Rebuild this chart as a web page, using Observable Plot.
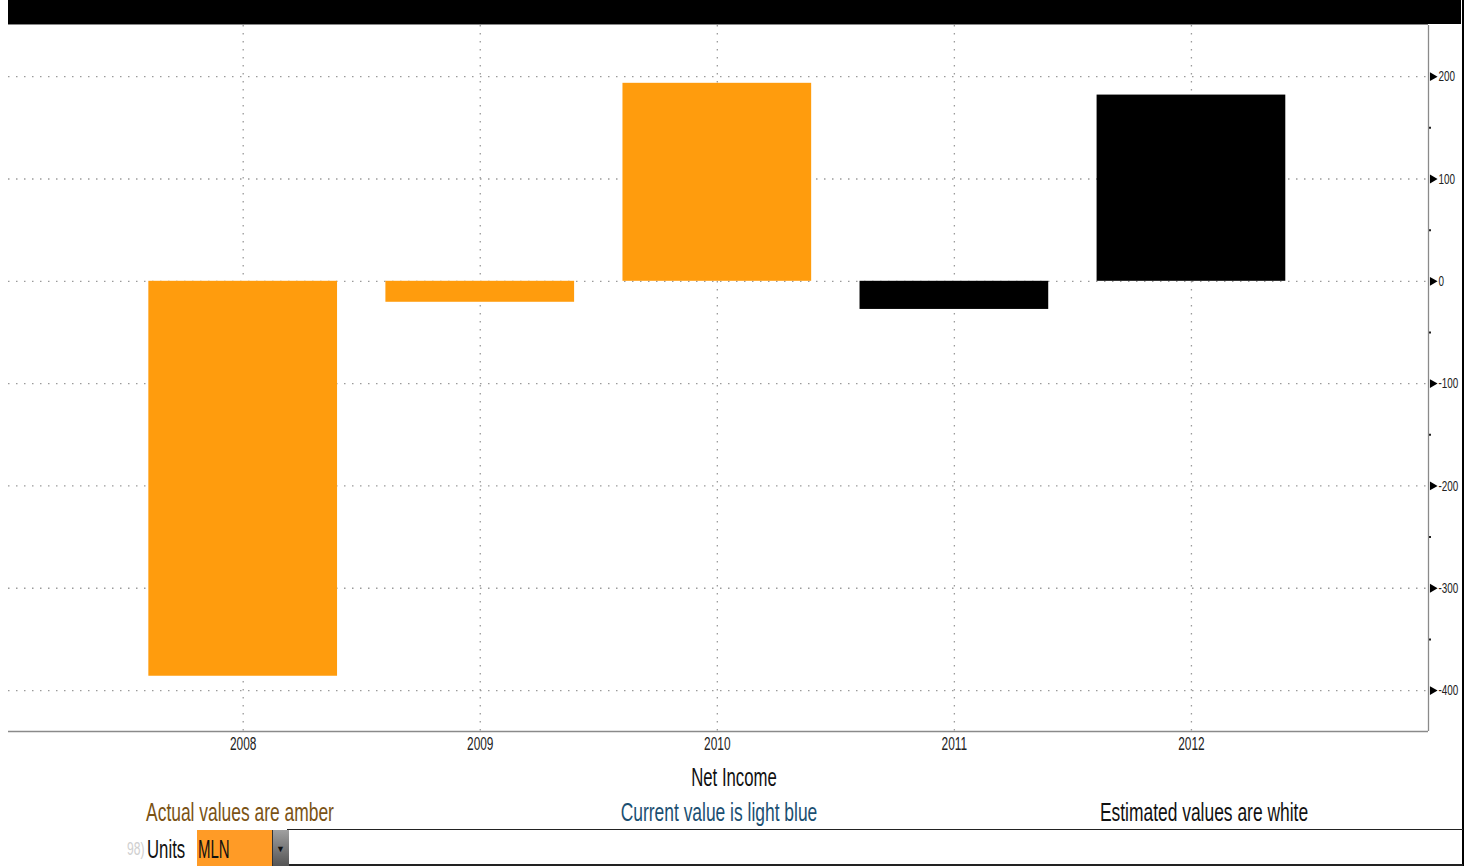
<!DOCTYPE html>
<html>
<head>
<meta charset="utf-8">
<script src="https://cdn.jsdelivr.net/npm/d3@7"></script>
<script src="https://cdn.jsdelivr.net/npm/@observablehq/plot@0.6"></script>
<style>
  html, body { margin: 0; padding: 0; background: white; }
  #wrap { position: relative; width: 1474px; height: 866px; overflow: hidden; background: white;
          font-family: "Liberation Sans", Arial, sans-serif; }
  #chart { position: absolute; left: 0; top: 0; }
  .abs { position: absolute; white-space: nowrap; line-height: 1; }
  .ctr { transform: translateX(-50%) scaleX(0.67); transform-origin: center; }
  .lft { transform: scaleX(0.67); transform-origin: left center; }
</style>
</head>
<body>
<div id="wrap">
  <div id="chart"></div>
  <div class="abs" style="left:8px;top:0;width:1453px;height:24px;background:#000;"></div>
  <div class="abs" style="left:8px;top:24px;width:1420px;height:1px;background:#888;"></div>
  <div class="abs" style="left:1462px;top:0;width:2px;height:866px;background:#000;"></div>
  <div class="abs ctr" id="title" style="left:734px;top:765px;font-size:25px;color:#111;"></div>
  <div class="abs ctr" id="leg0" style="left:240px;top:799px;font-size:26px;color:#7a5214;"></div>
  <div class="abs ctr" id="leg1" style="left:719px;top:799px;font-size:26px;color:#1b4f72;"></div>
  <div class="abs ctr" id="leg2" style="left:1204px;top:799px;font-size:26px;color:#111;"></div>
  <div class="abs" style="left:287px;top:829px;width:1176px;height:1px;background:#222;"></div>
  <div class="abs" style="left:287px;top:864px;width:1176px;height:2px;background:#222;"></div>
  <div class="abs lft" style="left:127px;top:840px;font-size:18px;color:#cfcfcf;">98)</div>
  <div class="abs lft" id="unitsLbl" style="left:147px;top:837px;font-size:25px;color:#111;"></div>
  <div class="abs" style="left:197px;top:830px;width:75px;height:36px;background:#ff9b26;"></div>
  <div class="abs" id="unitsVal" style="left:198px;top:837px;font-size:25px;color:#111;transform:scaleX(0.6);transform-origin:left center;"></div>
  <div class="abs" style="left:272px;top:830px;width:16px;height:36px;background:linear-gradient(#a0a0a0,#555);border-left:1px solid #333;"></div>
  <div class="abs" style="left:276px;top:845px;font-size:9px;color:#111;">▼</div>
</div>
<script>
// ---- data ----
const years = [2008, 2009, 2010, 2011, 2012];
const netIncome = [-386, -20.5, 193.5, -27.5, 182];
const status = ["actual", "actual", "actual", "estimate", "estimate"];
const yTicks = [-400, -300, -200, -100, 0, 100, 200];
const yMinorTicks = [-350, -250, -150, -50, 50, 150];
const titleText = "Net Income";
const legendTexts = ["Actual values are amber", "Current value is light blue", "Estimated values are white"];
const unitsText = "Units";
const unitsValue = "MLN";

const colorOf = {actual: "#ff9c0d", estimate: "#000000"};
const rows = years.map((y, i) => ({year: y, value: netIncome[i], status: status[i]}));
const xMax = 2013;
const yMin = -440;

const chart = Plot.plot({
  width: 1474,
  height: 760,
  marginLeft: 8,
  marginRight: 46,
  marginTop: 25,
  marginBottom: 29,
  x: {domain: [2007.01, xMax], axis: null},
  y: {domain: [yMin, 250], axis: null},
  style: {fontFamily: '"Liberation Sans", Arial, sans-serif', background: "white", color: "#222"},
  marks: [
    Plot.ruleY(yTicks, {stroke: "#9a9a9a", strokeWidth: 1.3, strokeDasharray: "1.5,6.5"}),
    Plot.ruleX(years, {stroke: "#9a9a9a", strokeWidth: 1.3, strokeDasharray: "1.5,6.5"}),
    Plot.rectY(rows, {
      x1: d => d.year - 0.398,
      x2: d => d.year + 0.398,
      y1: 0,
      y2: "value",
      fill: d => colorOf[d.status]
    }),
    Plot.ruleX([xMax], {stroke: "#8a8a8a", strokeWidth: 1.3}),
    Plot.ruleY([yMin], {stroke: "#8a8a8a", strokeWidth: 1.3}),
    Plot.axisX(years, {anchor: "bottom", label: null, tickSize: 0, tickPadding: 6, fontSize: 18, tickFormat: d => String(d)}),
    Plot.axisY(yMinorTicks, {anchor: "right", label: null, tickSize: 2, tickFormat: () => "", strokeWidth: 2, stroke: "#222"}),
    Plot.axisY(yTicks, {anchor: "right", label: null, tickSize: 0, tickPadding: 10, fontSize: 15, tickFormat: d => String(d)}),
    Plot.dot(yTicks, {x: () => xMax, y: d => d, symbol: "triangle2", rotate: 90, r: 4.2, fill: "#000", dx: 4})
  ]
});
// condense axis label glyphs horizontally (the reference uses a narrow face)
d3.select(chart).selectAll("g[aria-label$='tick label'] text").each(function () {
  const t = this.getAttribute("transform") || "";
  this.setAttribute("transform", t + " scale(0.66,1)");
});
document.getElementById("chart").appendChild(chart);
document.getElementById("title").textContent = titleText;
legendTexts.forEach((t, i) => document.getElementById("leg" + i).textContent = t);
document.getElementById("unitsLbl").textContent = unitsText;
document.getElementById("unitsVal").textContent = unitsValue;
</script>
</body>
</html>
